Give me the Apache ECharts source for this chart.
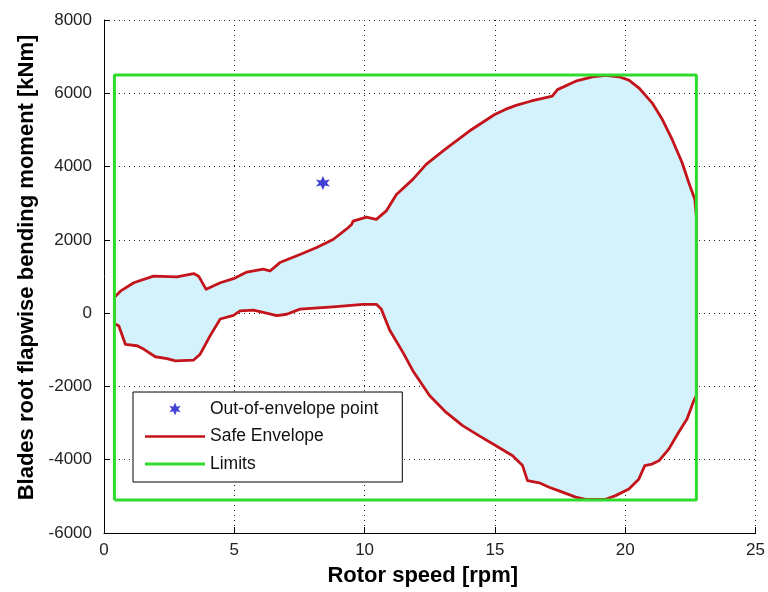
<!DOCTYPE html>
<html>
<head>
<meta charset="utf-8">
<script src="https://cdn.jsdelivr.net/npm/echarts@6/dist/echarts.min.js"></script>
<style>
  html, body { margin: 0; padding: 0; background: #ffffff; }
  #chart { width: 768px; height: 592px; }
</style>
</head>
<body>
<div id="chart"></div>
<script>
// Axis ranges: [min, max, step]
const rotorSpeedAxis = [0, 25, 5];
const momentAxis = [-6000, 8000, 2000];

// Safe envelope, upper edge (rotor speed [rpm], moment [kNm]), left to right
const envelopeUpper = [
  [0.40, 430], [0.63, 600], [1.14, 830], [1.90, 1010], [2.80, 990],
  [3.44, 1080], [3.63, 1010], [3.92, 650], [4.46, 830], [4.97, 940],
  [5.48, 1120], [6.11, 1200], [6.37, 1150], [6.75, 1380], [7.52, 1600],
  [8.16, 1790], [8.79, 2010], [9.30, 2290], [9.50, 2420], [9.56, 2510],
  [10.07, 2620], [10.45, 2560], [10.83, 2790], [11.22, 3240], [11.85, 3650],
  [12.36, 4060], [13.00, 4420], [13.25, 4560], [14.02, 4970], [14.99, 5420],
  [15.40, 5560], [15.81, 5670], [16.40, 5790], [17.08, 5900], [17.20, 5920],
  [17.40, 6100], [18.10, 6330], [18.74, 6450], [19.25, 6490], [19.76, 6450],
  [20.14, 6360], [20.52, 6150], [21.03, 5740], [21.42, 5290], [21.80, 4740],
  [22.18, 4110], [22.44, 3560], [22.67, 3110], [22.73, 2650]
];

// Safe envelope, lower edge, left to right
const envelopeLower = [
  [0.40, -280], [0.57, -350], [0.82, -850], [1.27, -890], [1.52, -980],
  [1.97, -1190], [2.42, -1240], [2.74, -1300], [3.44, -1280], [3.69, -1120],
  [4.07, -620], [4.46, -160], [4.97, -60], [5.22, 60], [5.73, 80],
  [6.11, 20], [6.63, -70], [7.01, -30], [7.52, 110], [8.79, 170],
  [9.94, 240], [10.45, 240], [10.64, 110], [10.96, -460], [11.47, -1070],
  [11.85, -1570], [12.49, -2250], [13.13, -2710], [13.76, -3070], [14.40, -3350],
  [15.04, -3620], [15.68, -3890], [16.06, -4160], [16.25, -4570], [16.70, -4630],
  [17.08, -4750], [17.46, -4850], [18.10, -5020], [18.48, -5080], [19.25, -5080],
  [19.63, -4980], [20.14, -4800], [20.52, -4530], [20.75, -4160], [21.03, -4120],
  [21.29, -4030], [21.67, -3710], [22.05, -3250], [22.37, -2890], [22.63, -2390],
  [22.73, -2250]
];

// Operating limits: rotor speed [min, max], moment [min, max]
const speedLimits = [0.40, 22.73];
const momentLimits = [-5100, 6500];

// Measured point lying outside the envelope
const outOfEnvelopePoints = [[8.4, 3550]];

const seriesNames = ['Out-of-envelope point', 'Safe Envelope', 'Limits'];

// Closed outline: upper edge left to right, then lower edge back
const envelopeLoop = envelopeUpper
  .concat(envelopeLower.slice().reverse())
  .concat([envelopeUpper[0]]);

const limitsLoop = [
  [speedLimits[0], momentLimits[0]],
  [speedLimits[0], momentLimits[1]],
  [speedLimits[1], momentLimits[1]],
  [speedLimits[1], momentLimits[0]],
  [speedLimits[0], momentLimits[0]]
];

const STAR = 'path://M10,0 L12.6,6.4 L18.66,5 L15,10 L18.66,15 L12.6,13.6 L10,20 L7.4,13.6 L1.34,15 L5,10 L1.34,5 L7.4,6.4 Z';
const FONT = '"Liberation Sans", Arial, Helvetica, sans-serif';

const gridLine = { show: true, lineStyle: { color: '#222', width: 1, type: [1, 4] } };
const plainNumber = function (v) { return String(v); };

const chart = echarts.init(document.getElementById('chart'), null, { renderer: 'canvas' });

chart.setOption({
  animation: false,
  backgroundColor: '#ffffff',
  grid: { left: 104, right: 11, top: 20, bottom: 58, containLabel: false },
  xAxis: {
    type: 'value',
    min: rotorSpeedAxis[0], max: rotorSpeedAxis[1], interval: rotorSpeedAxis[2],
    name: 'Rotor speed [rpm]',
    nameLocation: 'middle',
    nameGap: 32,
    nameTextStyle: { fontFamily: FONT, fontSize: 22, fontWeight: 'bold', color: '#000', padding: [0, 14, 0, 0] },
    axisLine: { show: true, onZero: false, lineStyle: { color: '#000', width: 1 } },
    axisTick: { show: true, inside: true, length: 6, lineStyle: { color: '#000' } },
    axisLabel: { fontFamily: FONT, fontSize: 17, color: '#222', margin: 9, formatter: plainNumber },
    splitLine: gridLine
  },
  yAxis: {
    type: 'value',
    min: momentAxis[0], max: momentAxis[1], interval: momentAxis[2],
    name: 'Blades root flapwise bending moment [kNm]',
    nameLocation: 'middle',
    nameGap: 62,
    nameTextStyle: { fontFamily: FONT, fontSize: 22, fontWeight: 'bold', color: '#000', padding: [0, 0, 0, 18] },
    axisLine: { show: true, onZero: false, lineStyle: { color: '#000', width: 1 } },
    axisTick: { show: true, inside: true, length: 6, lineStyle: { color: '#000' } },
    axisLabel: { fontFamily: FONT, fontSize: 17, color: '#222', margin: 12, formatter: plainNumber },
    splitLine: gridLine
  },
  legend: {
    orient: 'vertical',
    left: 133,
    top: 392,
    padding: [8, 24, 9, 12],
    backgroundColor: '#ffffff',
    borderColor: '#000',
    borderWidth: 1,
    borderRadius: 0,
    itemWidth: 60,
    itemHeight: 13,
    itemGap: 9.5,
    selectedMode: false,
    textStyle: { fontFamily: FONT, fontSize: 17.5, color: '#111' },
    data: [
      { name: seriesNames[0], icon: STAR },
      { name: seriesNames[1], icon: 'path://M0,0H24V1H0Z' },
      { name: seriesNames[2], icon: 'path://M0,0H20V1H0Z' }
    ]
  },
  series: [
    {
      name: 'envelope area',
      type: 'custom',
      silent: true,
      z: 1,
      data: envelopeLoop,
      encode: { x: 0, y: 1 },
      renderItem: function (params, api) {
        if (params.dataIndex !== 0) return null;
        const pts = envelopeLoop.map(function (p) { return api.coord(p); });
        return {
          type: 'polygon',
          shape: { points: pts },
          style: { fill: '#d4f2fb', stroke: null }
        };
      }
    },
    {
      name: seriesNames[1],
      type: 'line',
      z: 2,
      color: '#c4141b',
      data: envelopeLoop,
      symbol: 'none',
      showSymbol: false,
      silent: true,
      lineStyle: { color: '#c4141b', width: 2.8, join: 'round' }
    },
    {
      name: seriesNames[2],
      type: 'line',
      z: 3,
      color: '#2edc2e',
      data: limitsLoop,
      symbol: 'none',
      showSymbol: false,
      silent: true,
      lineStyle: { color: '#2edc2e', width: 3 }
    },
    {
      name: seriesNames[0],
      type: 'scatter',
      z: 4,
      color: '#1010c8',
      symbol: STAR,
      symbolSize: 14,
      silent: true,
      data: outOfEnvelopePoints
    }
  ]
});
</script>
</body>
</html>
